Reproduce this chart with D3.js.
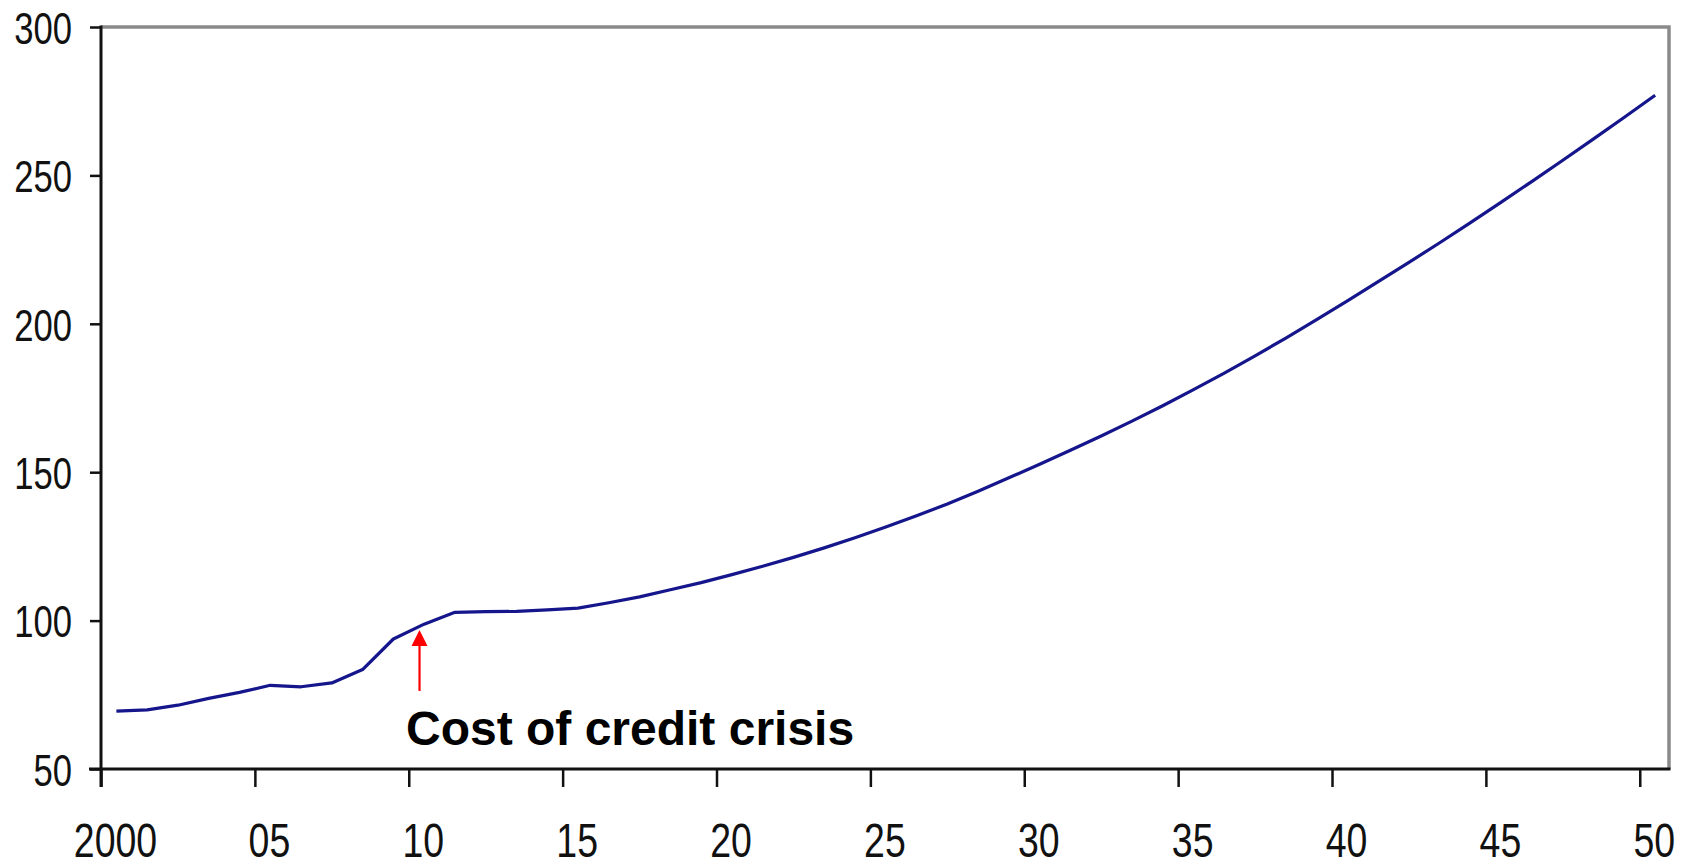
<!DOCTYPE html>
<html>
<head>
<meta charset="utf-8">
<script src="https://cdn.jsdelivr.net/npm/d3@7/dist/d3.min.js"></script>
<style>
  html, body { margin: 0; padding: 0; background: #ffffff; }
  svg { display: block; }
  text { font-family: "Liberation Sans", Arial, Helvetica, sans-serif; }
</style>
</head>
<body>
<svg id="chart" width="1686" height="866"></svg>
<script>
// Mid-year index values, 2000–2050
const years = d3.range(2000, 2051);
const values = [
  69.5, 69.9, 71.5, 73.8, 75.8, 78.2, 77.7, 79.0, 83.5, 93.8,
  98.8, 102.8, 103.0, 103.1, 103.6, 104.2, 106.0, 108.0, 110.4, 112.8,
  115.5, 118.3, 121.3, 124.5, 127.9, 131.5, 135.3, 139.3, 143.6, 148.1,
  152.7, 157.4, 162.2, 167.2, 172.4, 177.8, 183.4, 189.2, 195.2, 201.4,
  207.7, 214.2, 220.7, 227.3, 234.1, 241.0, 248.0, 255.1, 262.3, 269.6,
  277.0
];
const yTicks = [50, 100, 150, 200, 250, 300];
const xTicks = [2000, 2005, 2010, 2015, 2020, 2025, 2030, 2035, 2040, 2045, 2050];
const xTickLabels = ["2000", "05", "10", "15", "20", "25", "30", "35", "40", "45", "50"];

// Annotation: arrow pointing at the 2010 step, with its caption
const noteText = "Cost of credit crisis";
const noteYear = 2010.35;
const noteTipValue = 96.8;
const noteTailValue = 76.3;

const svg = d3.select("#chart");

const plot = { left: 101, right: 1669, top: 27, bottom: 769 };

const x = d3.scaleLinear().domain([2000, 2050.95]).range([plot.left, plot.right]);
const y = d3.scaleLinear().domain([50, 300]).range([plot.bottom, plot.top]);

// Frame: grey top and right edges
svg.append("path")
  .attr("d", `M${plot.left},${plot.top}H${plot.right}V${plot.bottom}`)
  .attr("fill", "none")
  .attr("stroke", "#8a8a8a")
  .attr("stroke-width", 3.5);

// Y axis
const yAxis = d3.axisLeft(y)
  .tickValues(yTicks)
  .tickFormat(d3.format("d"))
  .tickSizeInner(11)
  .tickSizeOuter(0)
  .tickPadding(18);

const gy = svg.append("g")
  .attr("transform", `translate(${plot.left},0)`)
  .call(yAxis);

// X axis
const xAxis = d3.axisBottom(x)
  .tickValues(xTicks)
  .tickFormat((d, i) => xTickLabels[i])
  .tickSizeInner(18)
  .tickSizeOuter(0);

const gx = svg.append("g")
  .attr("transform", `translate(0,${plot.bottom})`)
  .call(xAxis);

[gx, gy].forEach(g => {
  g.select(".domain").attr("stroke", "#111").attr("stroke-width", 3);
  g.selectAll(".tick line").attr("stroke", "#111").attr("stroke-width", 2.5);
  g.selectAll(".tick text")
    .attr("fill", "#111")
    .style("font-family", "'Liberation Sans', Arial, sans-serif");
});

// Extend the x-axis baseline to meet the frame corner and the 50 tick
gx.select(".domain").attr("d", `M${plot.left - 12},0H${plot.right + 1.5}`);
// Left axis runs down through the baseline
gy.select(".domain").attr("d", `M0,${plot.top - 1.5}V${plot.bottom + 18}`);

gx.selectAll(".tick text")
  .style("font-size", "48px")
  .attr("dx", 14)
  .attr("y", 53)
  .attr("dy", "0.72em");

gy.selectAll(".tick text")
  .style("font-size", "45px")
  .attr("dy", "0.36em");

// Narrow the tick labels horizontally
function narrow(sel, k) {
  sel.each(function () {
    const w = this.getComputedTextLength();
    d3.select(this)
      .attr("textLength", w * k)
      .attr("lengthAdjust", "spacingAndGlyphs");
  });
}
narrow(gx.selectAll(".tick text"), 0.78);
narrow(gy.selectAll(".tick text"), 0.77);

// Series line
const line = d3.line()
  .x((d, i) => x(years[i] + 0.5))
  .y(d => y(d));

svg.append("path")
  .datum(values)
  .attr("fill", "none")
  .attr("stroke", "#15158c")
  .attr("stroke-width", 3.2)
  .attr("stroke-linejoin", "round")
  .attr("d", line);

// Annotation arrow
const ax = x(noteYear);
const tipY = y(noteTipValue);
const tailY = y(noteTailValue);
const headLen = 16, headHalf = 8;

svg.append("line")
  .attr("x1", ax).attr("x2", ax)
  .attr("y1", tailY).attr("y2", tipY + headLen - 1)
  .attr("stroke", "#ff0000")
  .attr("stroke-width", 2.2);

svg.append("path")
  .attr("d", `M${ax},${tipY}L${ax - headHalf},${tipY + headLen}L${ax + headHalf},${tipY + headLen}Z`)
  .attr("fill", "#ff0000");

svg.append("text")
  .attr("x", 406)
  .attr("y", 745)
  .attr("fill", "#000")
  .style("font-size", "48px")
  .style("font-weight", "bold")
  .text(noteText);
</script>
</body>
</html>
